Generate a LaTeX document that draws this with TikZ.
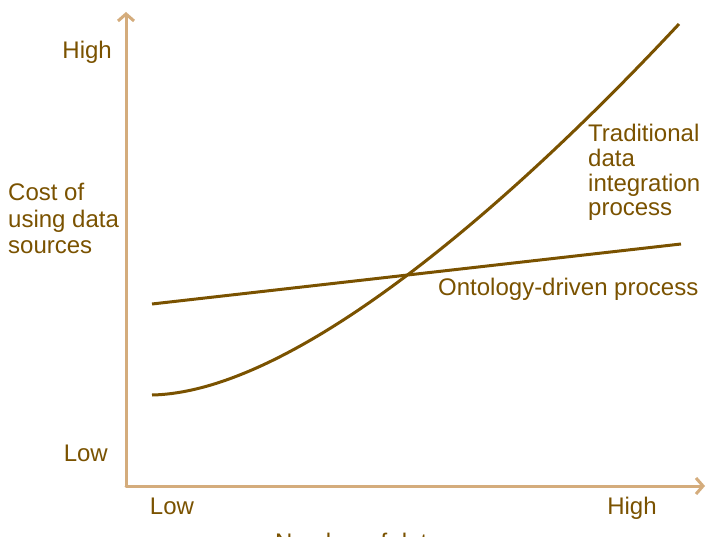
\documentclass[tikz,border=0pt]{standalone}
\usepackage{fontspec}
\setmainfont{Liberation Sans}
\usetikzlibrary{arrows.meta}
\definecolor{curvebrown}{RGB}{122,82,0}
\definecolor{axistan}{RGB}{212,172,124}
\begin{document}
\begin{tikzpicture}[x=1pt,y=-1pt,
  axis/.style={draw=axistan,line width=3pt,line cap=round,
    -{Straight Barb[length=7pt,width=16pt,line width=3pt]}},
  curve/.style={draw=curvebrown,line width=3pt},
  lbl/.style={text=curvebrown,font=\fontsize{24}{24.5}\selectfont,inner sep=0pt,align=left}]
\useasboundingbox (0,0) rectangle (706,537);
\coordinate (O) at (126,486);
\coordinate (Y) at (126,12);
\coordinate (X) at (705,486);
\coordinate (T0) at (152,395);
\coordinate (T1) at (679,24);
\coordinate (D0) at (152,304);
\coordinate (D1) at (681,244);
\node[lbl,anchor=base east] (yhigh) at (112,59) {High};
\node[lbl,anchor=base east] (ylow) at (108,461) {Low};
\node[lbl,anchor=base] (xlow) at (172,514) {Low};
\node[lbl,anchor=base] (xhigh) at (632,514) {High};
\node[lbl,anchor=base west,font=\fontsize{24}{26.5}\selectfont] (ytitle) at (8,254) {Cost of\\using data\\sources};
\node[lbl,anchor=base west] (xtitle) at (275,550) {Number of data sources};
\node[lbl,anchor=base west] (trad) at (588,215.5) {Traditional\\data\\integration\\process};
\node[lbl,anchor=base west] (onto) at (438,295) {Ontology-driven process};
\path[axis] (O) -- (Y);
\path[axis] (O) -- (X);
\path[curve] (D0) -- (D1);
\path[curve] (T0) .. controls (295,392) and (510,205) .. (T1);
\end{tikzpicture}
\end{document}
